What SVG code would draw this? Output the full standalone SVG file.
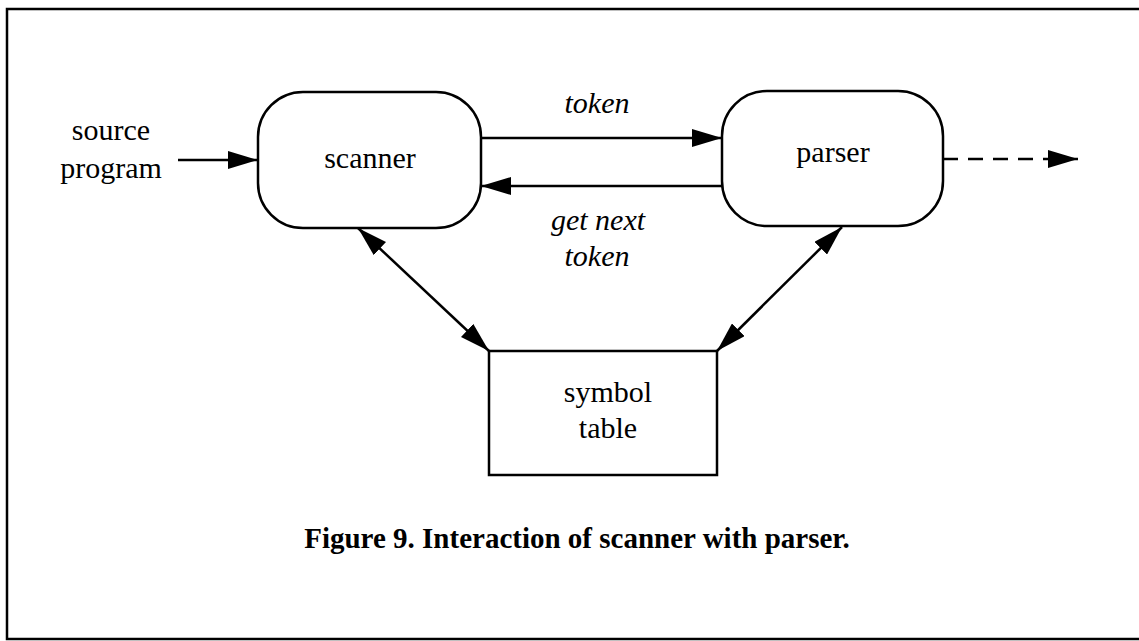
<svg xmlns="http://www.w3.org/2000/svg" width="1139" height="641" viewBox="0 0 1139 641">
<defs>
<style>
.t{font-family:"Liberation Serif","Times New Roman",serif;font-size:30px;fill:#000;text-anchor:middle}
.i{font-style:italic}
.cap{font-weight:bold;font-size:29px}
.box{fill:#fff;stroke:#000;stroke-width:2.5}
.ln{fill:none;stroke:#000;stroke-width:2.5}
</style>
<marker id="ah" viewBox="0 0 30 18" refX="30" refY="9" markerWidth="30" markerHeight="18" markerUnits="userSpaceOnUse" orient="auto-start-reverse">
<path d="M0,0 L30,9 L0,18 Z" fill="#000"/>
</marker>
</defs>
<rect x="0" y="0" width="1139" height="641" fill="#fff"/>
<rect x="7" y="9" width="1140" height="630" fill="none" stroke="#000" stroke-width="2.5"/>
<g id="connectors">
<line class="ln" x1="178" y1="160" x2="258" y2="160" marker-end="url(#ah)"/>
<line class="ln" x1="481" y1="138" x2="722" y2="138" marker-end="url(#ah)"/>
<line class="ln" x1="722" y1="186" x2="481" y2="186" marker-end="url(#ah)"/>
<line class="ln" x1="943" y1="159" x2="1078" y2="159" stroke-dasharray="15,10" marker-end="url(#ah)"/>
<line class="ln" x1="358" y1="228" x2="489" y2="351" marker-start="url(#ah)" marker-end="url(#ah)"/>
<line class="ln" x1="842" y1="227" x2="717" y2="351" marker-start="url(#ah)" marker-end="url(#ah)"/>
<text class="t i" x="597" y="113">token</text>
<text class="t i" x="598" y="230">get next</text>
<text class="t i" x="597" y="266">token</text>
</g>
<g id="source">
<text class="t" x="111" y="140">source</text>
<text class="t" x="111" y="178">program</text>
</g>
<g id="scanner">
<rect class="box" x="258" y="92" width="223" height="136" rx="45" ry="45"/>
<text class="t" x="370" y="168">scanner</text>
</g>
<g id="parser">
<rect class="box" x="722" y="91" width="221" height="135" rx="45" ry="45"/>
<text class="t" x="833" y="162">parser</text>
</g>
<g id="symtab">
<rect class="box" x="489" y="351" width="228" height="124"/>
<text class="t" x="608" y="402">symbol</text>
<text class="t" x="608" y="438">table</text>
</g>
<text class="t cap" x="577" y="548">Figure 9. Interaction of scanner with parser.</text>
</svg>
